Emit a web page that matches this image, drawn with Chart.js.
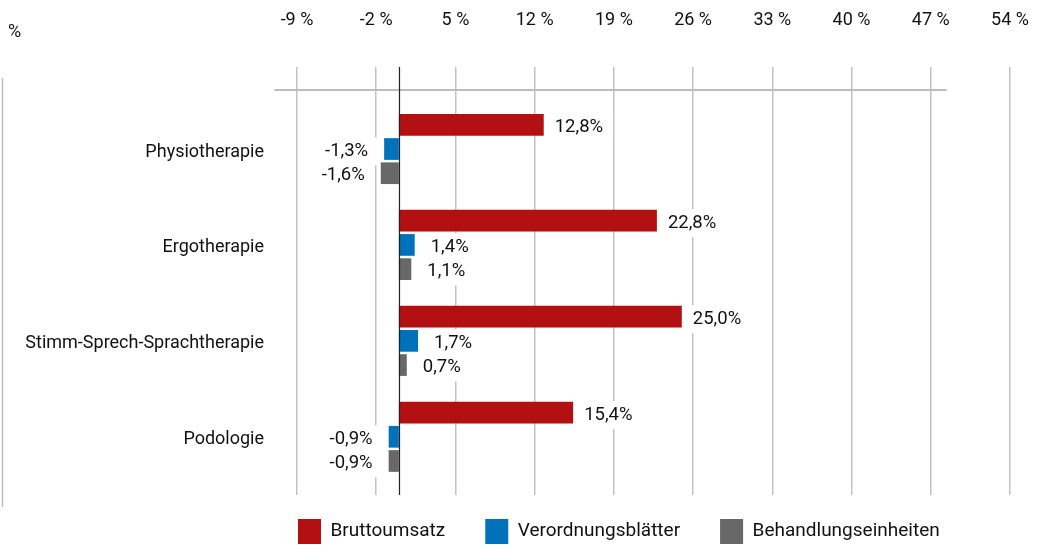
<!DOCTYPE html>
<html lang="de">
<head>
<meta charset="UTF-8">
<title>Heilmittel: Veränderung zum Vorjahr</title>
<style>
    body { margin: 0; background: #fff; }
    .chart-box { position: relative; width: 1043px; height: 546px; }
</style>
</head>
<body>
<div class="chart-box"><canvas id="chart"></canvas></div>

<script src="https://cdn.jsdelivr.net/npm/chart.js"></script>
<script>
// values, in percent
const categories = ['Physiotherapie', 'Ergotherapie', 'Stimm-Sprech-Sprachtherapie', 'Podologie'];
const seriesNames = ['Bruttoumsatz', 'Verordnungsblätter', 'Behandlungseinheiten'];
const bruttoumsatz = [12.8, 22.8, 25.0, 15.4];
const verordnungsblaetter = [-1.3, 1.4, 1.7, -0.9];
const behandlungseinheiten = [-1.6, 1.1, 0.7, -0.9];
const xTickMin = -9, xTickMax = 54, xTickStep = 7;

const colors = ['#b21013', '#0071bb', '#686868'];
const labelGap = [11, 16, 16];
const textColor = '#111111';

Chart.defaults.font.family = 'Roboto';
Chart.defaults.font.size = 18;
Chart.defaults.color = textColor;

const fmt = v => v.toFixed(1).replace('.', ',') + '%';

const seriesValues = [bruttoumsatz, verordnungsblaetter, behandlungseinheiten];
const datasets = seriesValues.map((vals, s) => ({
    label: seriesNames[s],
    data: vals.map((v, i) => ({ x: v, y: i })),
    backgroundColor: colors[s],
    borderWidth: 0,
    categoryPercentage: 0.757,
    barPercentage: 0.897
}));

// where the value labels go (white box behind, text on top)
function valueLabels(chart) {
    const ctx = chart.ctx;
    const out = [];
    ctx.save();
    ctx.font = '18.5px Roboto';
    chart.data.datasets.forEach((ds, di) => {
        const meta = chart.getDatasetMeta(di);
        meta.data.forEach((el, i) => {
            const v = ds.data[i].x;
            const text = fmt(v);
            const w = ctx.measureText(text).width;
            const left = v >= 0 ? el.x + labelGap[di] : el.x - labelGap[di] - w;
            out.push({ text, left, w, y: el.y + 2.5 });
        });
    });
    ctx.restore();
    return out;
}

const decor = {
    id: 'decor',
    afterLayout(chart) {
        // legend sits under the plot, starting at the left edge of the plot
        const lg = chart.legend;
        const p = lg.options.labels.padding;
        const dy = chart.chartArea.bottom + 24 - p - lg.top;
        const dx = chart.chartArea.left + 1 - p - lg.left;
        lg.top += dy;
        lg.left += dx; lg.right += dx;
        lg.bottom = chart.height;
        lg.height = lg.bottom - lg.top;
    },
    beforeDatasetsDraw(chart) {
        const { ctx } = chart;
        const x = chart.scales.x, y = chart.scales.y;
        ctx.save();
        ctx.strokeStyle = '#bdbdbd';
        ctx.lineWidth = 1.5;
        // thin frame line on the far left
        ctx.beginPath();
        ctx.moveTo(2.5, 78);
        ctx.lineTo(2.5, 507);
        ctx.stroke();
        // horizontal rule under the tick labels
        ctx.lineWidth = 2;
        const ry = Math.round(y.getPixelForValue(-0.615));
        ctx.beginPath();
        ctx.moveTo(x.getPixelForValue(-11), ry);
        ctx.lineTo(x.getPixelForValue(48.4), ry);
        ctx.stroke();
        // unit in the corner
        ctx.fillStyle = textColor;
        ctx.font = '18px Roboto';
        ctx.textBaseline = 'middle';
        ctx.fillText('%', 8, 32);
        // white boxes behind value labels
        ctx.fillStyle = '#fff';
        valueLabels(chart).forEach(l => {
            ctx.fillRect(l.left - 10, l.y - 14, l.w + 20, 28);
        });
        ctx.restore();
    },
    afterDatasetsDraw(chart) {
        const { ctx, chartArea } = chart;
        const x0 = Math.round(chart.scales.x.getPixelForValue(0)) + 0.5;
        ctx.save();
        ctx.strokeStyle = '#222';
        ctx.lineWidth = 1.2;
        ctx.beginPath();
        ctx.moveTo(x0, chartArea.top);
        ctx.lineTo(x0, chartArea.bottom);
        ctx.stroke();
        ctx.fillStyle = textColor;
        ctx.font = '18.5px Roboto';
        ctx.textBaseline = 'middle';
        ctx.textAlign = 'left';
        valueLabels(chart).forEach(l => ctx.fillText(l.text, l.left, l.y));
        ctx.restore();
    }
};

new Chart(document.getElementById('chart'), {
    type: 'bar',
    data: { datasets },
    options: {
        indexAxis: 'y',
        responsive: true,
        maintainAspectRatio: false,
        animation: false,
        layout: { padding: { right: 33 } },
        scales: {
            x: {
                type: 'linear',
                position: 'top',
                min: xTickMin,
                max: xTickMax,
                ticks: {
                    stepSize: xTickStep,
                    padding: 0,
                    color: textColor,
                    callback: v => v + ' %'
                },
                grid: {
                    color: '#c2c2c2',
                    lineWidth: 1.5,
                    drawTicks: true,
                    tickLength: 36,
                    tickColor: 'rgba(0,0,0,0)'
                },
                border: { display: false },
                afterFit: s => { s.height = 67; }
            },
            y: {
                type: 'linear',
                reverse: true,
                offset: false,
                min: -0.855,
                max: 3.607,
                afterBuildTicks: s => { s.ticks = categories.map((c, i) => ({ value: i })); },
                ticks: {
                    padding: 25,
                    labelOffset: 3,
                    color: textColor,
                    callback: v => categories[v]
                },
                grid: { display: false, offset: false },
                border: { display: false },
                afterFit: s => { s.width = 297; }
            }
        },
        plugins: {
            legend: {
                position: 'bottom',
                align: 'start',
                maxHeight: 51,
                labels: {
                    boxWidth: 23,
                    boxHeight: 25,
                    padding: 40,
                    color: textColor,
                    font: { size: 19 }
                }
            },
            tooltip: { enabled: false }
        }
    },
    plugins: [decor]
});
</script>
</body>
</html>
